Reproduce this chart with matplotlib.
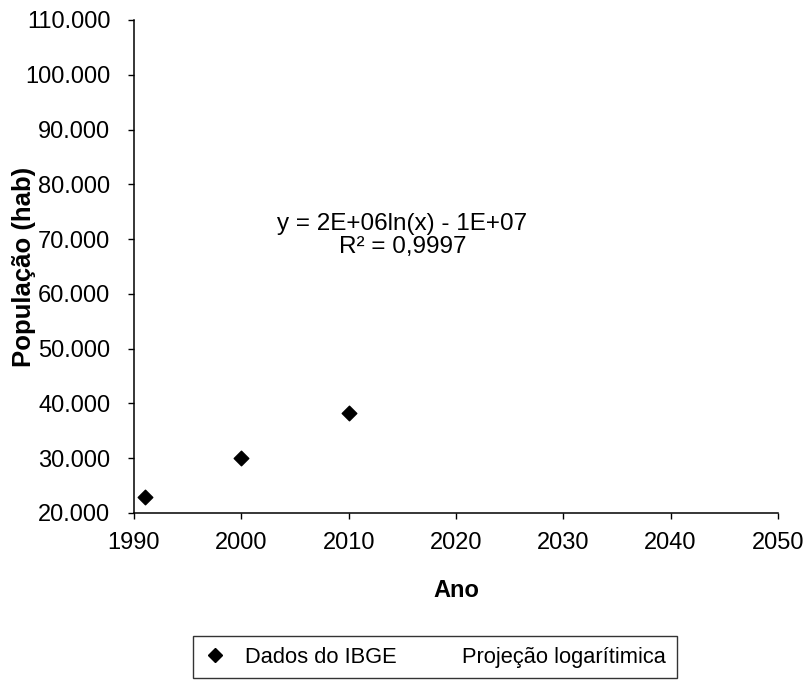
import matplotlib
matplotlib.use("Agg")
import matplotlib.pyplot as plt
from matplotlib.lines import Line2D

plt.rcParams['font.family'] = ['Liberation Sans', 'DejaVu Sans']

anos = [1991, 2000, 2010]
populacao = [22900, 30000, 38250]
yticks = [20000, 30000, 40000, 50000, 60000, 70000, 80000, 90000, 100000, 110000]
ytick_labels = ["20.000", "30.000", "40.000", "50.000", "60.000", "70.000",
                "80.000", "90.000", "100.000", "110.000"]
xticks = [1990, 2000, 2010, 2020, 2030, 2040, 2050]
equacao = "y = 2E+06ln(x) - 1E+07\nR² = 0,9997"
legenda = ["Dados do IBGE", "Projeção logarítimica"]

fig = plt.figure(figsize=(8.08, 6.8), dpi=100)
ax = fig.add_axes([0.1658, 0.2456, 0.797, 0.725])

ax.scatter(anos, populacao, marker='D', s=55, color='black', zorder=3)

ax.set_xlim(1990, 2050)
ax.set_ylim(20000, 110000)
ax.set_xticks(xticks)
ax.set_xticklabels([str(t) for t in xticks])
ax.set_yticks(yticks)
ax.set_yticklabels(ytick_labels)
ax.tick_params(axis='both', labelsize=17, direction='out', length=4, width=1, colors='black')
ax.tick_params(axis='x', pad=10)
ax.tick_params(axis='y', pad=13)

for s in ['top', 'right']:
    ax.spines[s].set_visible(False)
for s in ['left', 'bottom']:
    ax.spines[s].set_linewidth(1.1)

ax.set_xlabel("Ano", fontsize=17, fontweight='bold', labelpad=18)
ax.set_ylabel("População (hab)", fontsize=18.5, fontweight='bold', labelpad=-8)

ax.text(2015.0, 70700, equacao, ha='center', va='center', fontsize=17.5,
        linespacing=1.07, multialignment='center')

handles = [Line2D([], [], marker='D', color='black', linestyle='None', markersize=7.5),
           Line2D([], [], color='white', linestyle='None')]
leg = fig.legend(handles, legenda,
                 loc='center', bbox_to_anchor=(0.538, 0.0338), ncol=2,
                 fontsize=15.75, frameon=True, fancybox=False, edgecolor='black',
                 handlelength=1.0, handletextpad=0.9, columnspacing=1.05,
                 borderpad=0.5)
leg.get_frame().set_linewidth(1.0)

fig.savefig("out.png", dpi=100)
